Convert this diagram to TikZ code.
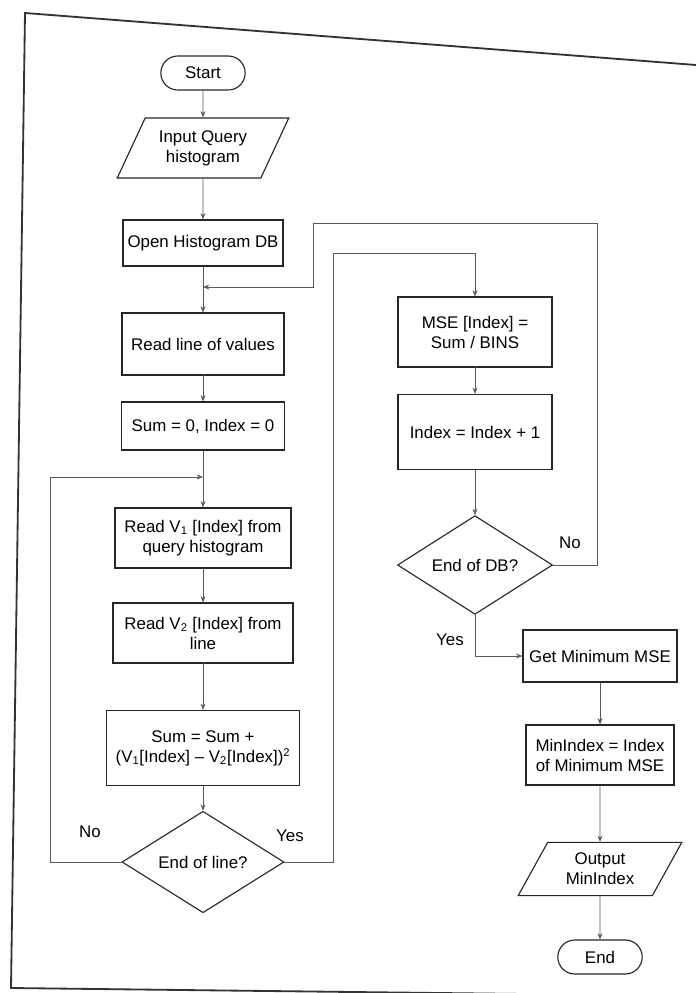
\documentclass[tikz,border=0pt]{standalone}
\usepackage{fontspec}
\setmainfont{Liberation Sans}
\usetikzlibrary{shapes.geometric,shapes.misc,arrows.meta,positioning,calc}

\begin{document}
\begin{tikzpicture}[x=0.025cm,y=-0.025cm,line cap=round,
  font=\fontsize{12}{14.2}\selectfont,
  procbox/.style={draw=black!85,line width=0.8pt,rectangle,align=center,inner sep=2pt},
  termbox/.style={draw=black!85,line width=0.8pt,rounded rectangle,minimum width=2.25cm,minimum height=0.85cm,inner sep=2pt},
  iobox/.style={draw=black!85,line width=0.8pt,trapezium,trapezium left angle=60,trapezium right angle=120,
    trapezium stretches=true,align=center,inner sep=1pt},
  decbox/.style={draw=black!85,line width=0.8pt,diamond,inner sep=0pt,align=center},
  flow/.style={draw=black!65,line width=0.5pt,-{Stealth[length=4.5pt,width=3.5pt]}},
  line/.style={draw=black!65,line width=0.5pt}]
\useasboundingbox (0,0) rectangle (696,993);
%% page frame
\draw[black!80,line width=1.3pt] (696,65) -- (25,13) -- (11,988) -- (696,996);
%% left column
\node[termbox] (start) at (203,73) {Start};
\node[iobox,minimum width=4.3cm,minimum height=1.5cm] (inq) at (203,148) {Input Query\\histogram};
\node[procbox,minimum width=4cm,minimum height=1.15cm] (opendb) at (203,243) {Open Histogram DB};
\node[procbox,minimum width=4.05cm,minimum height=1.55cm] (readln) at (203,344) {Read line of values};
\node[procbox,minimum width=4.07cm,minimum height=1.2cm] (sumzero) at (203,426) {Sum = 0, Index = 0};
\node[procbox,minimum width=4.4cm,minimum height=1.5cm] (readvone) at (203,538) {Read V\textsubscript{1} [Index] from\\query histogram};
\node[procbox,minimum width=4.5cm,minimum height=1.5cm] (readvtwo) at (203,633) {Read V\textsubscript{2} [Index] from\\line};
\node[procbox,minimum width=4.83cm,minimum height=1.875cm] (sumsq) at (203,748)
  {Sum = Sum +\\(V\textsubscript{1}[Index] -- V\textsubscript{2}[Index])\textsuperscript{2}};
\node[decbox,minimum width=4.05cm,minimum height=2.25cm] (endln) at (203,862) {End of line?};
%% right column
\node[procbox,minimum width=3.85cm,minimum height=1.75cm] (mse) at (475,332) {MSE [Index] =\\Sum / BINS};
\node[procbox,minimum width=3.85cm,minimum height=1.875cm] (incr) at (475,432) {Index = Index + 1};
\node[decbox,minimum width=3.875cm,minimum height=2.35cm] (enddb) at (475,565) {End of DB?};
\node[procbox,minimum width=3.85cm,minimum height=1.3cm] (getmin) at (600,656) {Get Minimum MSE};
\node[procbox,minimum width=3.7cm,minimum height=1.5cm] (minidx) at (600,755) {MinIndex = Index\\of Minimum MSE};
\node[iobox,minimum width=4.1cm,minimum height=1.33cm] (outidx) at (600,869) {Output\\MinIndex};
\node[termbox] (stop) at (600,957) {End};
%% straight arrows
\foreach \a/\b in {start/inq,inq/opendb,opendb/readln,readln/sumzero,sumzero/readvone,
  readvone/readvtwo,readvtwo/sumsq,sumsq/endln,mse/incr,incr/enddb,getmin/minidx,minidx/outidx,outidx/stop}
  \draw[flow] (\a) -- (\b);
%% loop back points
\coordinate (jnone) at (203,287);
\coordinate (jntwo) at (203,477);
\coordinate (lpleft) at (50,477);
\coordinate (lpyes) at (333,253);
\coordinate (lpno) at (597,223);
\coordinate (lpin) at (313,287);
%% end of line: no / yes
\draw[flow] (endln.west) -| (lpleft) -- (jntwo);
\node at (90,832) {No};
\draw[flow] (endln.east) -| (lpyes) -| (mse.north);
\node at (290,836) {Yes};
%% end of DB: no / yes
\draw[flow] (enddb.east) -| (lpno) -| (lpin) -- (jnone);
\node at (570,543) {No};
\draw[flow] (enddb.south) |- (getmin.west);
\node at (450,640) {Yes};
\end{tikzpicture}
\end{document}
